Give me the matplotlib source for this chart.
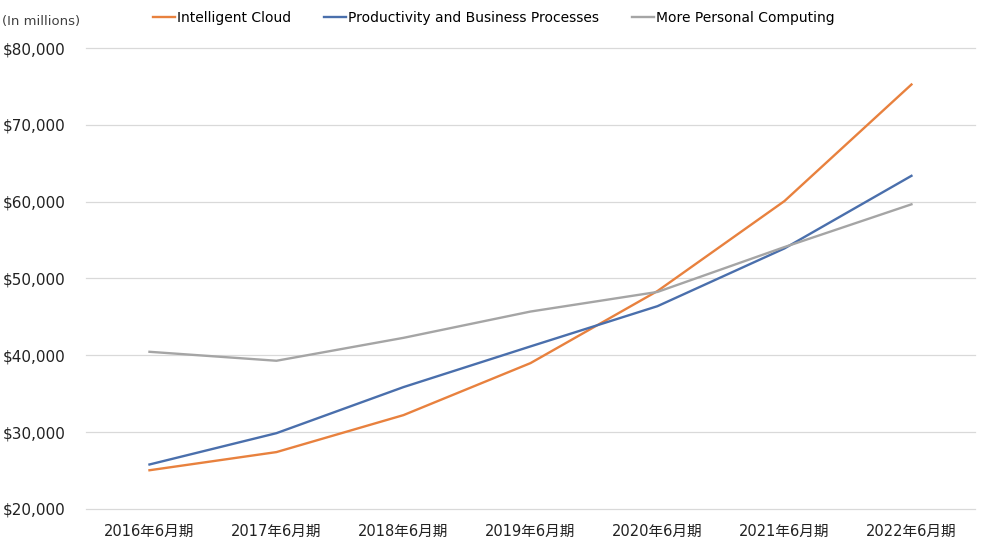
import matplotlib.pyplot as plt
from matplotlib.ticker import FuncFormatter

plt.rcParams['font.family'] = ['DejaVu Sans', 'Noto Sans CJK JP']

periods = ["2016年6月期", "2017年6月期", "2018年6月期", "2019年6月期",
           "2020年6月期", "2021年6月期", "2022年6月期"]
intelligent_cloud = [25042, 27407, 32219, 38985, 48366, 60080, 75251]
productivity = [25792, 29870, 35865, 41160, 46398, 53915, 63364]
personal_computing = [40460, 39294, 42276, 45698, 48251, 54093, 59655]

fig = plt.figure(figsize=(9.86, 5.55), dpi=100)
ax = fig.add_axes([0.0872, 0.0829, 0.9016, 0.8306])

x = range(len(periods))
ax.plot(x, intelligent_cloud, color='#E8813E', lw=1.7, label='Intelligent Cloud')
ax.plot(x, productivity, color='#4A6FAC', lw=1.7, label='Productivity and Business Processes')
ax.plot(x, personal_computing, color='#A5A5A5', lw=1.7, label='More Personal Computing')

ax.set_xlim(-0.5, len(periods) - 0.5)
ax.set_ylim(20000, 80000)
ax.set_yticks(range(20000, 80001, 10000))
ax.yaxis.set_major_formatter(FuncFormatter(lambda v, p: f"${v:,.0f}"))
ax.set_xticks(list(x))
ax.set_xticklabels(periods)
ax.grid(axis='y', color='#D9D9D9', lw=0.9)
for gl in ax.get_ygridlines():
    gl.set_clip_on(False)
ax.set_axisbelow(True)
for s in ax.spines.values():
    s.set_visible(False)
ax.tick_params(length=0, colors='#222222')
ax.tick_params(axis='x', labelsize=10.5, pad=11)
ax.tick_params(axis='y', labelsize=11, pad=15)

fig.text(0.002, 0.962, "(In millions)", fontsize=9.5, color='#404040', va='center')
fig.legend(loc='center', bbox_to_anchor=(0.501, 0.968), ncol=3, frameon=False,
           fontsize=10, handlelength=1.6, handletextpad=0.15, columnspacing=2.35)

fig.savefig("out.png", dpi=100)
